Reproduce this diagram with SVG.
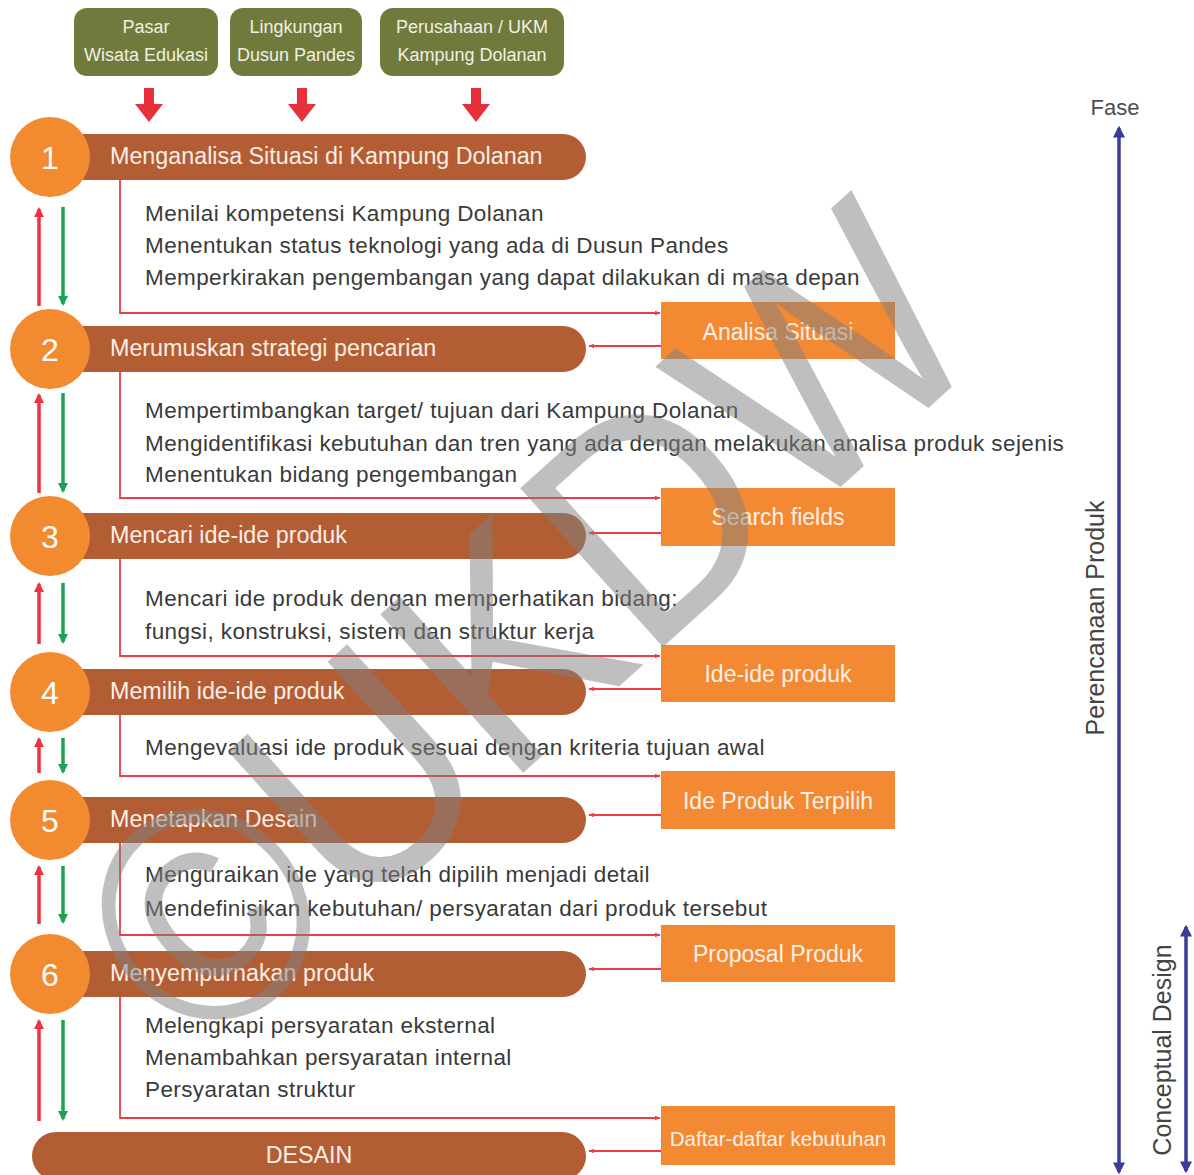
<svg xmlns="http://www.w3.org/2000/svg" width="1194" height="1175" viewBox="0 0 1194 1175">
<defs>
<style>
text{font-family:"Liberation Sans",Arial,sans-serif}
.gbox{fill:#717a3d}
.glbl{font-size:18px;fill:#eef0e2;text-anchor:middle}
.blk{fill:#e8303a}
.bar{fill:#b35d34}
.circ{fill:#f28b30}
.num{font-size:32px;fill:#fff;text-anchor:middle}
.title{font-size:23.3px;fill:#fbeee6}
.body{font-size:22.5px;fill:#3a3a3a;letter-spacing:0.4px}
.obox{fill:#f38a33}
.olbl{font-size:23px;fill:#fdf0e6;text-anchor:middle}
.rl{stroke:#ee3b45;stroke-width:1.8;fill:none}
.up{stroke:#ee3340;stroke-width:3.5;fill:none}
.dn{stroke:#1ca352;stroke-width:3.5;fill:none}
.bl{stroke:#3b3b98;stroke-width:3.5;fill:none}
.side{font-size:25px;fill:#444;text-anchor:middle}
</style>
<marker id="ar" viewBox="0 0 10 10" refX="9" refY="5" markerWidth="6" markerHeight="6" orient="auto" markerUnits="userSpaceOnUse"><path d="M0,1 L10,5 L0,9 z" fill="#ee3b45"/></marker>
<marker id="au" viewBox="0 0 10 10" refX="8" refY="5" markerWidth="10" markerHeight="10" orient="auto" markerUnits="userSpaceOnUse"><path d="M0,0 L10,5 L0,10 z" fill="#ee3340"/></marker>
<marker id="ag" viewBox="0 0 10 10" refX="8" refY="5" markerWidth="10" markerHeight="10" orient="auto" markerUnits="userSpaceOnUse"><path d="M0,0 L10,5 L0,10 z" fill="#1ca352"/></marker>
<marker id="ab" viewBox="0 0 10 10" refX="8" refY="5" markerWidth="12" markerHeight="12" orient="auto-start-reverse" markerUnits="userSpaceOnUse"><path d="M0,0 L10,5 L0,10 z" fill="#3b3b98"/></marker>
</defs>

<g id="src-pasar"><rect class="gbox" x="74" y="8" width="144" height="68" rx="13"/><text class="glbl" x="146" y="33">Pasar</text><text class="glbl" x="146" y="61">Wisata Edukasi</text></g>
<g id="src-lingkungan"><rect class="gbox" x="230" y="8" width="132" height="68" rx="13"/><text class="glbl" x="296" y="33">Lingkungan</text><text class="glbl" x="296" y="61">Dusun Pandes</text></g>
<g id="src-perusahaan"><rect class="gbox" x="380" y="8" width="184" height="68" rx="13"/><text class="glbl" x="472" y="33">Perusahaan / UKM</text><text class="glbl" x="472" y="61">Kampung Dolanan</text></g>

<g id="connectors">
<path class="blk" d="M144,88 h10 v16 h9 l-14,18 l-14,-18 h9 z"/>
<path class="blk" d="M297,88 h10 v16 h9 l-14,18 l-14,-18 h9 z"/>
<path class="blk" d="M471,88 h10 v16 h9 l-14,18 l-14,-18 h9 z"/>

<path class="rl" d="M120,180 V313 H660" marker-end="url(#ar)"/>
<path class="rl" d="M661,346 H589" marker-end="url(#ar)"/>
<path class="rl" d="M120,372 V498 H660" marker-end="url(#ar)"/>
<path class="rl" d="M661,533 H589" marker-end="url(#ar)"/>
<path class="rl" d="M120,559 V656 H660" marker-end="url(#ar)"/>
<path class="rl" d="M661,689 H589" marker-end="url(#ar)"/>
<path class="rl" d="M120,715 V776 H660" marker-end="url(#ar)"/>
<path class="rl" d="M661,815 H589" marker-end="url(#ar)"/>
<path class="rl" d="M120,843 V935 H660" marker-end="url(#ar)"/>
<path class="rl" d="M661,969 H589" marker-end="url(#ar)"/>
<path class="rl" d="M120,997 V1118 H660" marker-end="url(#ar)"/>
<path class="rl" d="M661,1151 H589" marker-end="url(#ar)"/>

<path class="up" d="M39,306 V209" marker-end="url(#au)"/>
<path class="dn" d="M63,207 V304" marker-end="url(#ag)"/>
<path class="up" d="M39,493 V395" marker-end="url(#au)"/>
<path class="dn" d="M63,393 V491" marker-end="url(#ag)"/>
<path class="up" d="M39,644 V584" marker-end="url(#au)"/>
<path class="dn" d="M63,583 V642" marker-end="url(#ag)"/>
<path class="up" d="M39,773 V739" marker-end="url(#au)"/>
<path class="dn" d="M63,738 V772" marker-end="url(#ag)"/>
<path class="up" d="M39,924 V867" marker-end="url(#au)"/>
<path class="dn" d="M63,866 V922" marker-end="url(#ag)"/>
<path class="up" d="M39,1121 V1021" marker-end="url(#au)"/>
<path class="dn" d="M63,1020 V1119" marker-end="url(#ag)"/>

<path class="bl" d="M1119,1172 V128" marker-start="url(#ab)" marker-end="url(#ab)"/>
<path class="bl" d="M1186,1171 V927" marker-start="url(#ab)" marker-end="url(#ab)"/>
</g>

<g id="step1"><rect class="bar" x="50" y="134" width="536" height="46" rx="23"/><circle class="circ" cx="50" cy="157" r="40"/><text class="num" x="50" y="169">1</text><text class="title" x="110" y="164">Menganalisa Situasi di Kampung Dolanan</text>
<text class="body" x="145" y="221">Menilai kompetensi Kampung Dolanan</text><text class="body" x="145" y="253">Menentukan status teknologi yang ada di Dusun Pandes</text><text class="body" x="145" y="285">Memperkirakan pengembangan yang dapat dilakukan di masa depan</text></g>

<g id="step2"><rect class="bar" x="50" y="326" width="536" height="46" rx="23"/><circle class="circ" cx="50" cy="349" r="40"/><text class="num" x="50" y="361">2</text><text class="title" x="110" y="356">Merumuskan strategi pencarian</text>
<text class="body" x="145" y="418">Mempertimbangkan target/ tujuan dari Kampung Dolanan</text><text class="body" x="145" y="451">Mengidentifikasi kebutuhan dan tren yang ada dengan melakukan analisa produk sejenis</text><text class="body" x="145" y="482">Menentukan bidang pengembangan</text></g>

<g id="step3"><rect class="bar" x="50" y="513" width="536" height="46" rx="23"/><circle class="circ" cx="50" cy="536" r="40"/><text class="num" x="50" y="548">3</text><text class="title" x="110" y="543">Mencari ide-ide produk</text>
<text class="body" x="145" y="606">Mencari ide produk dengan memperhatikan bidang:</text><text class="body" x="145" y="639">fungsi, konstruksi, sistem dan struktur kerja</text></g>

<g id="step4"><rect class="bar" x="50" y="669" width="536" height="46" rx="23"/><circle class="circ" cx="50" cy="692" r="40"/><text class="num" x="50" y="704">4</text><text class="title" x="110" y="699">Memilih ide-ide produk</text>
<text class="body" x="145" y="755">Mengevaluasi ide produk sesuai dengan kriteria tujuan awal</text></g>

<g id="step5"><rect class="bar" x="50" y="797" width="536" height="46" rx="23"/><circle class="circ" cx="50" cy="820" r="40"/><text class="num" x="50" y="832">5</text><text class="title" x="110" y="827">Menetapkan Desain</text>
<text class="body" x="145" y="882">Menguraikan ide yang telah dipilih menjadi detail</text><text class="body" x="145" y="916">Mendefinisikan kebutuhan/ persyaratan dari produk tersebut</text></g>

<g id="step6"><rect class="bar" x="50" y="951" width="536" height="46" rx="23"/><circle class="circ" cx="50" cy="974" r="40"/><text class="num" x="50" y="986">6</text><text class="title" x="110" y="981">Menyempurnakan produk</text>
<text class="body" x="145" y="1033">Melengkapi persyaratan eksternal</text><text class="body" x="145" y="1065">Menambahkan persyaratan internal</text><text class="body" x="145" y="1097">Persyaratan struktur</text></g>

<g id="desain"><rect class="bar" x="32" y="1132" width="554" height="48" rx="24"/><text class="title" x="309" y="1163" text-anchor="middle">DESAIN</text></g>

<g id="out1"><rect class="obox" x="661" y="302" width="234" height="57"/><text class="olbl" x="778" y="340">Analisa Situasi</text></g>
<g id="out2"><rect class="obox" x="661" y="488" width="234" height="58"/><text class="olbl" x="778" y="525">Search fields</text></g>
<g id="out3"><rect class="obox" x="661" y="645" width="234" height="57"/><text class="olbl" x="778" y="682">Ide-ide produk</text></g>
<g id="out4"><rect class="obox" x="661" y="771" width="234" height="58"/><text class="olbl" x="778" y="809">Ide Produk Terpilih</text></g>
<g id="out5"><rect class="obox" x="661" y="925" width="234" height="57"/><text class="olbl" x="778" y="962">Proposal Produk</text></g>
<g id="out6"><rect class="obox" x="661" y="1106" width="234" height="59"/><text class="olbl" x="778" y="1146" style="font-size:20.5px">Daftar-daftar kebutuhan</text></g>

<g id="fase"><text x="1115" y="115" style="font-size:22px;fill:#4d4d4d" text-anchor="middle">Fase</text></g>
<g id="perencanaan"><text class="side" transform="translate(1104,618) rotate(-90)">Perencanaan Produk</text></g>
<g id="conceptual"><text class="side" transform="translate(1171,1050) rotate(-90)">Conceptual Design</text></g>

<g id="watermark" opacity="0.5"><text transform="translate(524,624) rotate(-42) scale(1,1.1)" x="0" y="100" text-anchor="middle" style="font-size:282px;fill:#808080">©UKDW</text></g>
</svg>
